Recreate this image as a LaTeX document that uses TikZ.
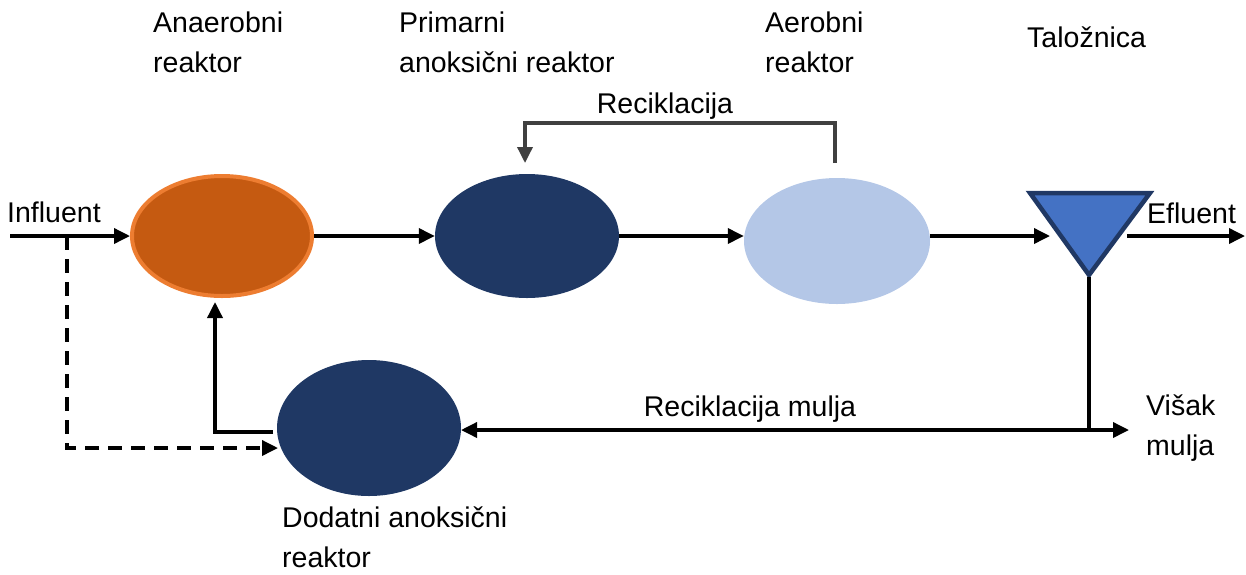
\documentclass[tikz,border=0pt]{standalone}
\usepackage{fontspec}
\setmainfont{Liberation Sans}
\usetikzlibrary{arrows.meta,shapes.geometric,calc}
\definecolor{anafill}{HTML}{C55A11}
\definecolor{anadraw}{HTML}{ED7D31}
\definecolor{navy}{HTML}{1F3864}
\definecolor{lightb}{HTML}{B4C7E7}
\definecolor{trifill}{HTML}{4472C4}
\definecolor{tridraw}{HTML}{203864}
\definecolor{loopgray}{HTML}{404040}
\tikzset{
  reactor/.style={ellipse, minimum width=184pt, minimum height=124pt, inner sep=0pt},
  arr/.style={line width=3.5pt, -{Triangle[length=16pt,width=15pt]}},
  lbl/.style={font=\fontsize{28.5}{40}\selectfont, align=left, inner sep=0pt},
}
\begin{document}
\begin{tikzpicture}[x=1pt,y=-1pt]
\useasboundingbox (0,0) rectangle (1246,574);
% reactors
\node[reactor, fill=anafill, draw=anadraw, line width=4pt, minimum width=180pt, minimum height=120pt] (ana) at (222,236) {};
\node[reactor, fill=navy] (pri) at (527,236) {};
\node[reactor, fill=lightb, minimum width=186pt, minimum height=126pt] (aer) at (837,241) {};
\node[reactor, fill=navy, minimum height=136pt] (dod) at (369,428) {};
% settler
\coordinate (tl) at (1030,193);
\coordinate (tr) at (1150,193);
\coordinate (tb) at (1089,275);
\draw[fill=trifill, draw=tridraw, line width=4.5pt, line join=miter] (tl) -- (tr) -- (tb) -- cycle;
% coordinates
\coordinate (in) at (10,236);
\coordinate (split) at (67,236);
\coordinate (dashc) at (67,448);
\coordinate (dashe) at (278,448);
\coordinate (dashp) at (272,448);
\coordinate (retS) at (273,432);
\coordinate (retC) at (215,432);
\coordinate (retE) at (215,302);
\coordinate (triIn) at (1050,236);
\coordinate (triOut) at (1127,236);
\coordinate (efl) at (1245,236);
\coordinate (apex) at (1089,277);
\coordinate (junc) at (1089,430);
\coordinate (wasteS) at (1012,430);
\coordinate (wasteE) at (1129,430);
\coordinate (dodE) at (461,430);
\coordinate (recS) at (835,163);
\coordinate (recA) at (835,123);
\coordinate (recB) at (525,123);
\coordinate (recE) at (525,163);
% main line
\draw[arr] (in) -- (ana.west);
\draw[arr] (ana.east) -- (pri.west);
\draw[arr] (pri.east) -- (aer.west |- pri.east);
\draw[arr] (aer.east |- pri.east) -- (triIn);
\draw[arr] (triOut) -- (efl);
% bypass dashed
\draw[line width=3.5pt, dash pattern=on 14pt off 9pt] (split) -- (dashc) -- (dashp);
\draw[arr] (dashp) -- (dashe);
% return to anaerobic
\draw[arr] (retS) -- (retC) -- (retE);
% internal recycle
\draw[line width=3.5pt, draw=loopgray, -{Triangle[length=16pt,width=15pt]}] (recS) -- (recA) -- (recB) -- (recE);
% sludge recycle
\draw[line width=3.5pt] (apex) -- (junc);
\draw[arr] (junc) -- (dodE);
\draw[arr] (wasteS) -- (wasteE);
% labels
\node[lbl, anchor=west] (l1) at (153,42) {Anaerobni\\reaktor};
\node[lbl, anchor=west] (l2) at (399,42) {Primarni\\anoksični reaktor};
\node[lbl, anchor=west] (l3) at (765,42) {Aerobni\\reaktor};
\node[lbl, anchor=west] (l4) at (1027,37) {Taložnica};
\node[lbl, anchor=west] (l5) at (7,212) {Influent};
\node[lbl, anchor=west] (l6) at (1147,213) {Efluent};
\node[lbl] (l7) at (665,106) {Reciklacija};
\node[lbl] (l8) at (750,409) {Reciklacija mulja};
\node[lbl, anchor=west] (l9) at (1146,428) {Višak\\mulja};
\node[lbl, anchor=west] (l10) at (282,537) {Dodatni anoksični\\reaktor};
\end{tikzpicture}
\end{document}
